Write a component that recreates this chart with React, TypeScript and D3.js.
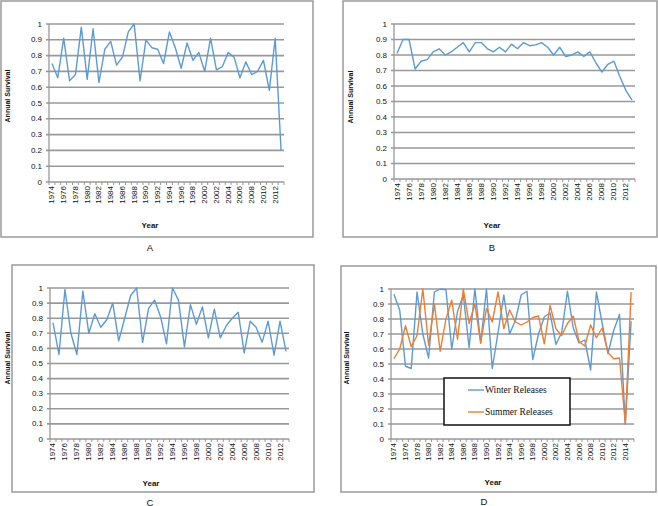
import React from 'react';
import * as d3 from 'd3';

const WIDTH = 658;
const HEIGHT = 506;

// categories (years) shared by all four panels; A-C stop at 2013
const YEARS = [
  1974, 1975, 1976, 1977, 1978, 1979, 1980, 1981, 1982, 1983,
  1984, 1985, 1986, 1987, 1988, 1989, 1990, 1991, 1992, 1993,
  1994, 1995, 1996, 1997, 1998, 1999, 2000, 2001, 2002, 2003,
  2004, 2005, 2006, 2007, 2008, 2009, 2010, 2011, 2012, 2013,
  2014, 2015,
];

const SURVIVAL_A = [
  0.75, 0.66, 0.91, 0.64, 0.68, 0.98, 0.65, 0.97, 0.63, 0.84,
  0.89, 0.74, 0.79, 0.95, 1.0, 0.64, 0.9, 0.85, 0.84, 0.75,
  0.95, 0.85, 0.72, 0.88, 0.77, 0.82, 0.7, 0.91, 0.71, 0.73,
  0.82, 0.79, 0.66, 0.76, 0.68, 0.7, 0.77, 0.58, 0.91, 0.2,
];

const SURVIVAL_B = [
  0.81, 0.9, 0.9, 0.71, 0.76, 0.77, 0.82, 0.84, 0.8, 0.82,
  0.85, 0.88, 0.82, 0.88, 0.88, 0.84, 0.82, 0.85, 0.82, 0.87,
  0.84, 0.88, 0.86, 0.865, 0.88, 0.85, 0.8, 0.85, 0.79, 0.8,
  0.82, 0.79, 0.82, 0.75, 0.69, 0.74, 0.76, 0.66, 0.57, 0.51,
];

const SURVIVAL_C = [
  0.77, 0.56, 0.99, 0.7, 0.56, 0.98, 0.7, 0.83, 0.74, 0.79,
  0.9, 0.65, 0.8, 0.95, 1.0, 0.64, 0.865, 0.92, 0.81, 0.63,
  1.0, 0.92, 0.61, 0.89, 0.76, 0.875, 0.67, 0.86, 0.67, 0.75,
  0.8, 0.84, 0.57, 0.78, 0.74, 0.64, 0.78, 0.555, 0.78, 0.58,
];

const WINTER_D = [
  0.965, 0.86, 0.485, 0.47, 0.98, 0.7, 0.54, 0.98, 1.0, 0.995,
  0.6, 0.85, 0.96, 0.61, 1.0, 0.64, 1.0, 0.47, 0.71, 0.96,
  0.7, 0.79, 0.96, 0.985, 0.53, 0.7, 0.815, 0.84, 0.63, 0.71,
  0.985, 0.74, 0.64, 0.66, 0.46, 0.98, 0.77, 0.57, 0.725, 0.83,
  0.1, 0.785,
];

const SUMMER_D = [
  0.535, 0.6, 0.755, 0.615, 0.69, 1.0, 0.625, 0.9, 0.585, 0.8,
  0.925, 0.665, 1.0, 0.77, 0.9, 0.64, 0.87, 0.78, 0.98, 0.735,
  0.86, 0.78, 0.76, 0.78, 0.81, 0.82, 0.635, 0.89, 0.735, 0.69,
  0.77, 0.82, 0.65, 0.62, 0.76, 0.675, 0.74, 0.575, 0.535, 0.54,
  0.1, 0.98,
];

const Y_TICKS = [0, 0.1, 0.2, 0.3, 0.4, 0.5, 0.6, 0.7, 0.8, 0.9, 1];
const LEGEND_LABELS = ['Winter Releases', 'Summer Releases'];

const BLUE = '#5b9bd5';
const ORANGE = '#ed7d31';
const GRID = '#999999';
const FRAME = '#9a9a9a';
const SANS = '"Liberation Sans", Arial, sans-serif';
const SERIF = '"Liberation Serif", "Times New Roman", serif';

type Series = { values: number[]; color: string };
type PanelDef = {
  letter: string;
  frame: { x: number; y: number; w: number; h: number };
  plot: { left: number; right: number; top: number; bottom: number };
  yTitle: [number, number];
  xTitle: [number, number];
  letterPos: [number, number];
  series: Series[];
  legend?: { x: number; y: number; w: number; h: number };
};

const PANELS: PanelDef[] = [
  {
    letter: 'A',
    frame: { x: 1, y: 1, w: 312, h: 236 },
    plot: { left: 49, right: 284, top: 24, bottom: 182 },
    yTitle: [7, 96],
    xTitle: [150, 225],
    letterPos: [150, 247],
    series: [{ values: SURVIVAL_A, color: BLUE }],
  },
  {
    letter: 'B',
    frame: { x: 343, y: 1, w: 314, h: 236 },
    plot: { left: 394, right: 635, top: 24, bottom: 179 },
    yTitle: [350, 97],
    xTitle: [492, 225],
    letterPos: [492, 247],
    series: [{ values: SURVIVAL_B, color: BLUE }],
  },
  {
    letter: 'C',
    frame: { x: 12, y: 265, w: 302, h: 227 },
    plot: { left: 50, right: 289, top: 288, bottom: 439 },
    yTitle: [7, 358],
    xTitle: [151, 483],
    letterPos: [150, 502],
    series: [{ values: SURVIVAL_C, color: BLUE }],
  },
  {
    letter: 'D',
    frame: { x: 341, y: 266, w: 315, h: 226 },
    plot: { left: 391, right: 634, top: 289, bottom: 439 },
    yTitle: [346, 358],
    xTitle: [493, 482],
    letterPos: [484, 501],
    series: [
      { values: WINTER_D, color: BLUE },
      { values: SUMMER_D, color: ORANGE },
    ],
    legend: { x: 444, y: 378, w: 126, h: 47 },
  },
];

function Panel({ p }: { p: PanelDef }) {
  const n = d3.max(p.series, s => s.values.length) as number;
  const years = YEARS.slice(0, n);
  const x = d3.scaleBand<string>()
    .domain(years.map(String))
    .range([p.plot.left, p.plot.right]);
  const y = d3.scaleLinear().domain([0, 1]).range([p.plot.bottom, p.plot.top]);
  const cx = (i: number) => (x(String(years[i])) as number) + x.bandwidth() / 2;
  const line = d3.line<number>().x((_, i) => cx(i)).y(d => y(d));

  return (
    <g>
      <rect x={p.frame.x} y={p.frame.y} width={p.frame.w} height={p.frame.h}
        fill="none" stroke={FRAME} strokeWidth={1.5} />

      {Y_TICKS.map(t => (
        <g key={t}>
          <line x1={p.plot.left - 3} x2={p.plot.right} y1={y(t)} y2={y(t)}
            stroke={GRID} strokeWidth={1.6} />
          <text x={p.plot.left - 7} y={y(t)} textAnchor="end" dominantBaseline="central"
            fontSize={8} fontFamily={SANS} fill="#111">{t === 0 || t === 1 ? t : t.toFixed(1)}</text>
        </g>
      ))}
      <line x1={p.plot.left} x2={p.plot.left} y1={p.plot.top} y2={p.plot.bottom}
        stroke={GRID} strokeWidth={1.3} />

      {years.map(yr => (
        <line key={'t' + yr} x1={x(String(yr))} x2={x(String(yr))}
          y1={p.plot.bottom} y2={p.plot.bottom + 3} stroke={GRID} strokeWidth={1} />
      ))}
      <line x1={p.plot.right} x2={p.plot.right} y1={p.plot.bottom} y2={p.plot.bottom + 3}
        stroke={GRID} strokeWidth={1} />

      {years.map((yr, i) => (yr - 1974) % 2 === 0 ? (
        <text key={'l' + yr} transform={`translate(${cx(i)},${p.plot.bottom + 4}) rotate(-90)`}
          textAnchor="end" dominantBaseline="central" fontSize={8} fontFamily={SANS} fill="#111">
          {yr}
        </text>
      ) : null)}

      {p.series.map((s, k) => (
        <path key={k} d={line(s.values) as string} fill="none" stroke={s.color}
          strokeWidth={1.4} strokeLinejoin="round" />
      ))}

      {p.legend && (
        <g>
          <rect x={p.legend.x} y={p.legend.y} width={p.legend.w} height={p.legend.h}
            fill="#fff" stroke="#111" strokeWidth={1.5} />
          {p.series.map((s, k) => {
            const ly = p.legend!.y + 12 + k * 22;
            return (
              <g key={k}>
                <line x1={p.legend!.x + 24} x2={p.legend!.x + 40} y1={ly} y2={ly}
                  stroke={s.color} strokeWidth={1.4} />
                <text x={p.legend!.x + 41} y={ly} dominantBaseline="central"
                  fontSize={9.5} fontFamily={SERIF} fill="#111">{LEGEND_LABELS[k]}</text>
              </g>
            );
          })}
        </g>
      )}

      <text transform={`translate(${p.yTitle[0]},${p.yTitle[1]}) rotate(-90)`} textAnchor="middle"
        dominantBaseline="central" fontSize={7} fontWeight="bold" fontFamily={SANS} fill="#111">
        Annual Survival
      </text>
      <text x={p.xTitle[0]} y={p.xTitle[1]} textAnchor="middle" dominantBaseline="central"
        fontSize={8} fontWeight="bold" fontFamily={SANS} fill="#111">Year</text>
      <text x={p.letterPos[0]} y={p.letterPos[1]} textAnchor="middle" dominantBaseline="central"
        fontSize={9.5} fontFamily={SANS} fill="#111">{p.letter}</text>
    </g>
  );
}

export default function App() {
  return (
    <svg width={WIDTH} height={HEIGHT} style={{ position: 'absolute', left: 0, top: 0, background: '#fff' }}>
      <rect width={WIDTH} height={HEIGHT} fill="#fff" />
      {PANELS.map(p => <Panel key={p.letter} p={p} />)}
    </svg>
  );
}
